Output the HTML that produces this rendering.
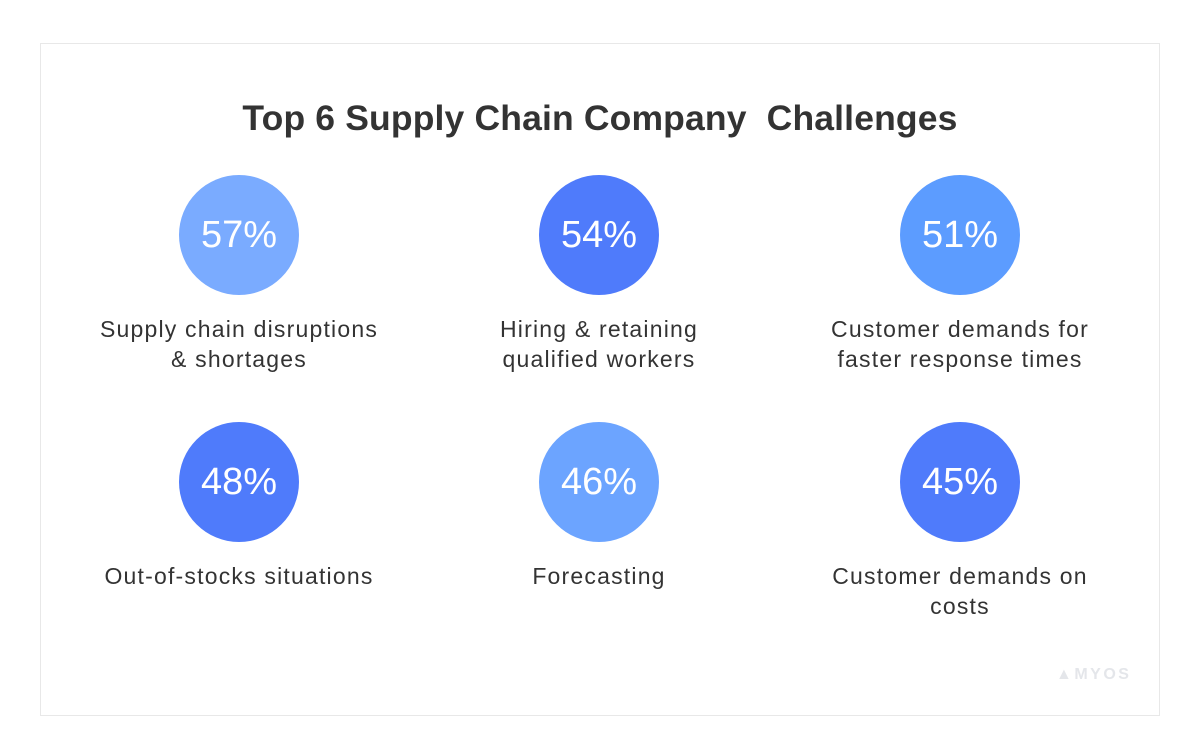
<!DOCTYPE html>
<html><head><meta charset="utf-8"><style>
body{margin:0;width:1200px;height:756px;background:#fff;font-family:"Liberation Sans",sans-serif;position:relative;overflow:hidden}
#frame{position:absolute;left:40px;top:43px;width:1118px;height:671px;border:1px solid #e8e8e8;box-sizing:content-box}
#title{position:absolute;left:0;width:1200px;top:98px;text-align:center;font-size:35.5px;font-weight:bold;color:#333;letter-spacing:0.15px}
.circle{position:absolute;width:120px;height:120px;border-radius:50%;color:#fff;font-size:38px;line-height:120px;text-align:center}
.label{position:absolute;width:400px;text-align:center;font-size:23px;line-height:30px;color:#333;letter-spacing:1.2px}
#logo{position:absolute;left:1056px;top:666px;font-size:16px;font-weight:bold;color:#e4e6ea;letter-spacing:2.5px}
</style></head><body>
<div id="frame"></div>
<div id="title">Top 6 Supply Chain Company&nbsp; Challenges</div>
<div id="items"></div>
<div id="logo">▲MYOS</div>
<script>
const values=[57,54,51,48,46,45];
const labels=[["Supply chain disruptions","& shortages"],["Hiring & retaining","qualified workers"],["Customer demands for","faster response times"],["Out-of-stocks situations"],["Forecasting"],["Customer demands on","costs"]];
const colors=["#7aabff","#4f7bfb","#5c9cff","#4f7bfb","#6ca4ff","#4f7bfb"];
const cx=[239,599,960],cy=[235,482];
const box=document.getElementById('items');
values.forEach((v,i)=>{
 const x=cx[i%3],y=cy[Math.floor(i/3)];
 const c=document.createElement('div');
 c.className='circle';
 
 
 c.style.left=(x-60)+'px';c.style.top=(y-60)+'px';c.style.background=colors[i];
 c.textContent=v+'%';box.appendChild(c);
 const l=document.createElement('div');
 l.className='label';
 
 
 l.style.left=(x-200)+'px';l.style.top=(y+79)+'px';
 l.innerHTML=labels[i].join('<br>');box.appendChild(l);
});
</script>
</body></html>
